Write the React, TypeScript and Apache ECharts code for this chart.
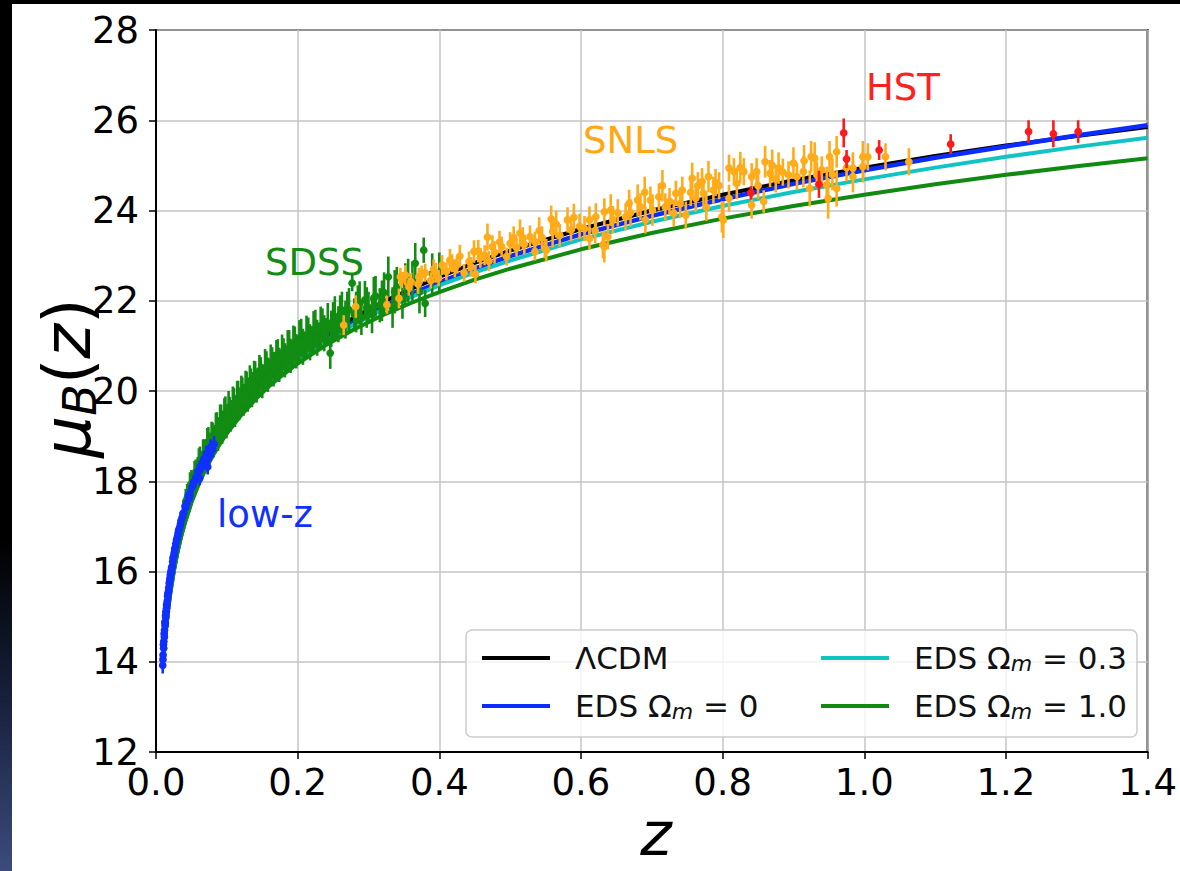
import React, { useEffect, useRef } from "react";
import * as echarts from "echarts";

const FONT = "DejaVu Sans";

// model curves (z, distance modulus)
const curveZ = [0.01, 0.0125, 0.015, 0.0175, 0.02, 0.025, 0.03, 0.035, 0.04, 0.05, 0.06, 0.07, 0.08, 0.09, 0.1, 0.12, 0.14, 0.16, 0.18, 0.2, 0.24, 0.28, 0.32, 0.36, 0.4, 0.45, 0.5, 0.6, 0.7, 0.8, 0.9, 1.0, 1.1, 1.2, 1.3, 1.4];
const muLCDM = [14.02, 14.51, 14.91, 15.25, 15.55, 16.04, 16.44, 16.79, 17.09, 17.58, 17.99, 18.34, 18.65, 18.92, 19.16, 19.59, 19.95, 20.27, 20.55, 20.81, 21.25, 21.63, 21.97, 22.26, 22.53, 22.84, 23.11, 23.59, 24.0, 24.35, 24.67, 24.95, 25.21, 25.44, 25.65, 25.85];
const muEDS0 = [14.02, 14.51, 14.9, 15.24, 15.53, 16.02, 16.43, 16.77, 17.06, 17.56, 17.96, 18.31, 18.61, 18.87, 19.11, 19.53, 19.88, 20.2, 20.47, 20.72, 21.15, 21.53, 21.86, 22.15, 22.41, 22.71, 22.99, 23.47, 23.88, 24.25, 24.59, 24.89, 25.17, 25.42, 25.66, 25.89];
const muEDS03 = [14.02, 14.5, 14.9, 15.24, 15.53, 16.02, 16.42, 16.76, 17.05, 17.55, 17.95, 18.3, 18.6, 18.86, 19.1, 19.51, 19.86, 20.17, 20.44, 20.69, 21.11, 21.48, 21.8, 22.08, 22.34, 22.63, 22.89, 23.36, 23.75, 24.1, 24.41, 24.69, 24.95, 25.19, 25.41, 25.61];
const muEDS1 = [14.01, 14.5, 14.9, 15.23, 15.52, 16.01, 16.41, 16.75, 17.04, 17.53, 17.93, 18.27, 18.56, 18.82, 19.06, 19.46, 19.81, 20.11, 20.37, 20.61, 21.02, 21.37, 21.68, 21.95, 22.19, 22.47, 22.71, 23.14, 23.5, 23.82, 24.1, 24.35, 24.58, 24.79, 24.98, 25.16];

// supernova samples: [z, mu, error]
const lowZData = [
  [0.0095, 13.92, 0.18], [0.01, 14.15, 0.16], [0.0105, 14.38, 0.15], [0.011, 14.45, 0.14], [0.0115, 14.62, 0.14],
  [0.012, 14.7, 0.14], [0.0125, 14.88, 0.13], [0.013, 14.85, 0.13], [0.0135, 15.02, 0.13], [0.014, 15.1, 0.12],
  [0.0145, 15.12, 0.13], [0.015, 15.26, 0.12], [0.0157, 15.3, 0.12], [0.0164, 15.45, 0.12], [0.0171, 15.52, 0.12],
  [0.0178, 15.58, 0.12], [0.0186, 15.74, 0.12], [0.0194, 15.8, 0.12], [0.0202, 15.92, 0.12], [0.0211, 15.98, 0.12],
  [0.022, 16.08, 0.12], [0.023, 16.12, 0.12], [0.024, 16.3, 0.12], [0.0252, 16.36, 0.12], [0.0264, 16.5, 0.12],
  [0.0276, 16.55, 0.12], [0.029, 16.7, 0.12], [0.0305, 16.78, 0.12], [0.032, 16.92, 0.12], [0.0335, 16.98, 0.12],
  [0.0352, 17.12, 0.13], [0.037, 17.2, 0.13], [0.039, 17.3, 0.13], [0.041, 17.45, 0.14], [0.0432, 17.5, 0.14],
  [0.0455, 17.68, 0.14], [0.048, 17.7, 0.14], [0.0505, 17.86, 0.15], [0.0532, 17.98, 0.15], [0.056, 18.05, 0.15],
  [0.059, 18.22, 0.16], [0.062, 18.25, 0.16], [0.065, 18.4, 0.16], [0.068, 18.45, 0.17], [0.071, 18.62, 0.17],
  [0.074, 18.5, 0.17], [0.077, 18.75, 0.18], [0.08, 18.7, 0.18], [0.082, 18.82, 0.18], [0.0664, 18.4, 0.17],
  [0.073, 18.32, 0.17], [0.0618, 18.07, 0.16],
  [0.0098, 14.05, 0.16], [0.0108, 14.3, 0.15], [0.0118, 14.55, 0.14], [0.0128, 14.8, 0.14], [0.0138, 14.98, 0.13],
  [0.0148, 15.18, 0.13], [0.016, 15.35, 0.12], [0.0168, 15.5, 0.12], [0.0182, 15.65, 0.12], [0.0198, 15.85, 0.12],
  [0.0215, 16.02, 0.12], [0.0235, 16.22, 0.12], [0.0258, 16.42, 0.12], [0.028, 16.62, 0.12], [0.0298, 16.72, 0.13],
  [0.0312, 16.85, 0.13], [0.0345, 17.05, 0.13], [0.038, 17.28, 0.14], [0.042, 17.42, 0.14], [0.047, 17.62, 0.14],
  [0.052, 17.9, 0.15], [0.058, 18.12, 0.16], [0.064, 18.35, 0.17], [0.07, 18.5, 0.17], [0.076, 18.62, 0.18],
];

const sdssData = [
  [0.042, 17.55, 0.28], [0.046, 17.72, 0.26], [0.05, 17.95, 0.3], [0.053, 17.98, 0.25], [0.056, 18.2, 0.28],
  [0.059, 18.24, 0.3], [0.062, 18.45, 0.32], [0.065, 18.4, 0.26], [0.068, 18.62, 0.31], [0.071, 18.66, 0.28],
  [0.074, 18.85, 0.35], [0.077, 18.8, 0.28], [0.08, 18.98, 0.32], [0.083, 18.95, 0.28], [0.086, 19.18, 0.35],
  [0.089, 19.12, 0.3], [0.092, 19.35, 0.35], [0.095, 19.28, 0.28], [0.098, 19.5, 0.38], [0.101, 19.42, 0.3],
  [0.104, 19.55, 0.32], [0.107, 19.52, 0.28], [0.11, 19.72, 0.35], [0.113, 19.62, 0.28], [0.116, 19.85, 0.38],
  [0.119, 19.78, 0.3], [0.122, 19.95, 0.35], [0.125, 19.88, 0.28], [0.128, 20.05, 0.38], [0.131, 19.98, 0.3],
  [0.134, 20.15, 0.35], [0.137, 20.1, 0.32], [0.14, 20.28, 0.38], [0.144, 20.22, 0.3], [0.148, 20.4, 0.35],
  [0.152, 20.3, 0.28], [0.156, 20.5, 0.38], [0.16, 20.42, 0.3], [0.164, 20.62, 0.35], [0.168, 20.55, 0.32],
  [0.172, 20.75, 0.4], [0.176, 20.62, 0.3], [0.18, 20.82, 0.35], [0.184, 20.72, 0.28], [0.188, 20.95, 0.4],
  [0.192, 20.82, 0.3], [0.196, 21.05, 0.38], [0.2, 20.92, 0.32], [0.205, 21.18, 0.42], [0.21, 21.02, 0.3],
  [0.215, 21.25, 0.38], [0.22, 21.12, 0.32], [0.225, 21.38, 0.42], [0.23, 21.22, 0.3], [0.235, 21.45, 0.38],
  [0.24, 21.3, 0.32], [0.246, 20.84, 0.35], [0.25, 21.55, 0.42], [0.255, 21.42, 0.3], [0.26, 21.7, 0.42],
  [0.265, 21.55, 0.32], [0.27, 21.82, 0.38], [0.277, 22.39, 0.18], [0.28, 21.7, 0.35], [0.285, 21.92, 0.42],
  [0.29, 21.62, 0.38], [0.295, 22.02, 0.42], [0.3, 21.85, 0.35], [0.305, 21.7, 0.42], [0.31, 22.1, 0.45],
  [0.316, 21.9, 0.38], [0.322, 22.18, 0.45], [0.328, 22.53, 0.45], [0.334, 21.85, 0.45], [0.34, 22.3, 0.45],
  [0.348, 22.05, 0.45], [0.356, 22.45, 0.48], [0.366, 22.83, 0.45], [0.372, 22.2, 0.48], [0.378, 23.12, 0.28],
  [0.38, 21.94, 0.3], [0.39, 22.6, 0.45], [0.4, 22.62, 0.45],
  [0.044, 17.62, 0.32], [0.048, 17.85, 0.35], [0.0515, 17.88, 0.32], [0.0545, 18.1, 0.35], [0.0575, 18.12, 0.32],
  [0.0605, 18.35, 0.38], [0.0635, 18.3, 0.32], [0.0665, 18.55, 0.38], [0.0695, 18.52, 0.32], [0.0725, 18.78, 0.4],
  [0.0755, 18.68, 0.32], [0.0785, 18.92, 0.4], [0.0815, 18.85, 0.32], [0.0845, 19.1, 0.42], [0.0875, 19.02, 0.35],
  [0.0905, 19.28, 0.42], [0.0935, 19.18, 0.35], [0.0965, 19.42, 0.42], [0.0995, 19.3, 0.35], [0.1025, 19.58, 0.42],
  [0.1055, 19.45, 0.35], [0.1085, 19.68, 0.42], [0.1115, 19.55, 0.35], [0.1145, 19.8, 0.42], [0.1175, 19.7, 0.35],
  [0.1205, 19.92, 0.42], [0.1235, 19.8, 0.35], [0.1265, 20.0, 0.45], [0.1295, 19.92, 0.38], [0.1325, 20.12, 0.45],
  [0.1355, 20.02, 0.38], [0.1385, 20.22, 0.45], [0.142, 20.12, 0.38], [0.146, 20.35, 0.45], [0.15, 20.22, 0.38],
  [0.154, 20.48, 0.45], [0.158, 20.36, 0.38], [0.162, 20.58, 0.45], [0.166, 20.48, 0.38], [0.17, 20.68, 0.45],
  [0.174, 20.58, 0.38], [0.178, 20.8, 0.45], [0.182, 20.68, 0.38], [0.186, 20.9, 0.45], [0.19, 20.78, 0.38],
  [0.194, 21.0, 0.45], [0.198, 20.88, 0.38], [0.2025, 21.12, 0.45], [0.2075, 20.98, 0.4], [0.2125, 21.22, 0.45],
  [0.2175, 21.08, 0.4], [0.2225, 21.32, 0.45], [0.2275, 21.18, 0.4], [0.2325, 21.42, 0.45], [0.2375, 21.28, 0.4],
  [0.2425, 21.5, 0.45], [0.2475, 21.38, 0.4], [0.2525, 21.62, 0.48], [0.2575, 21.48, 0.4], [0.2625, 21.72, 0.48],
  [0.2675, 21.58, 0.42], [0.2725, 21.8, 0.48], [0.2825, 21.75, 0.45], [0.2875, 21.95, 0.48], [0.2975, 21.85, 0.45],
  [0.3075, 22.05, 0.48], [0.319, 22.0, 0.45], [0.337, 22.2, 0.48], [0.352, 22.35, 0.48], [0.362, 22.42, 0.45],
];

const snlsData = [
  [0.265, 21.46, 0.22], [0.282, 21.87, 0.25], [0.326, 21.91, 0.2], [0.343, 22.05, 0.22], [0.345, 22.53, 0.2],
  [0.347, 22.46, 0.18], [0.352, 22.57, 0.22], [0.357, 22.31, 0.2], [0.37, 22.37, 0.22], [0.371, 22.53, 0.2],
  [0.38, 22.62, 0.2], [0.388, 22.45, 0.18], [0.392, 22.7, 0.22], [0.399, 22.5, 0.18], [0.404, 22.79, 0.22],
  [0.41, 22.65, 0.2], [0.418, 22.83, 0.2], [0.422, 22.72, 0.2], [0.429, 22.99, 0.25], [0.435, 22.62, 0.2],
  [0.442, 22.87, 0.22], [0.449, 23.09, 0.25], [0.451, 22.59, 0.2], [0.458, 22.95, 0.22], [0.464, 23.01, 0.22],
  [0.468, 23.41, 0.3], [0.47, 22.88, 0.22], [0.478, 23.07, 0.25], [0.485, 23.3, 0.25], [0.488, 23.2, 0.22],
  [0.495, 22.98, 0.2], [0.5, 23.27, 0.25], [0.509, 23.18, 0.2], [0.514, 23.5, 0.3], [0.518, 23.38, 0.25],
  [0.528, 23.42, 0.25], [0.535, 23.31, 0.22], [0.535, 23.09, 0.2], [0.541, 23.55, 0.3], [0.549, 23.16, 0.22],
  [0.551, 23.12, 0.25], [0.558, 23.81, 0.3], [0.56, 23.53, 0.35], [0.57, 23.45, 0.25], [0.581, 23.79, 0.28],
  [0.586, 23.57, 0.25], [0.598, 23.65, 0.28], [0.612, 23.38, 0.25], [0.612, 23.79, 0.3], [0.621, 23.86, 0.3],
  [0.631, 23.24, 0.3], [0.633, 23.2, 0.35], [0.633, 23.97, 0.3], [0.638, 23.42, 0.28], [0.642, 24.01, 0.35],
  [0.652, 23.95, 0.3], [0.663, 23.86, 0.3], [0.668, 24.16, 0.3], [0.68, 24.23, 0.35], [0.684, 24.08, 0.3],
  [0.691, 23.79, 0.3], [0.698, 24.23, 0.3], [0.701, 24.01, 0.35], [0.71, 24.3, 0.3], [0.719, 24.08, 0.3],
  [0.725, 24.2, 0.3], [0.731, 23.94, 0.3], [0.734, 24.38, 0.28], [0.743, 24.45, 0.3], [0.748, 23.9, 0.3],
  [0.755, 24.4, 0.3], [0.757, 24.71, 0.35], [0.762, 24.27, 0.3], [0.771, 24.64, 0.3], [0.773, 24.38, 0.28],
  [0.777, 24.07, 0.3], [0.787, 24.45, 0.3], [0.79, 24.62, 0.3], [0.799, 23.86, 0.35], [0.801, 23.79, 0.4],
  [0.809, 24.94, 0.3], [0.809, 24.27, 0.3], [0.816, 24.86, 0.3], [0.82, 24.6, 0.35], [0.83, 24.86, 0.3],
  [0.841, 24.75, 0.3], [0.841, 24.12, 0.3], [0.848, 24.86, 0.3], [0.858, 24.2, 0.25], [0.86, 25.08, 0.35],
  [0.867, 24.82, 0.3], [0.875, 24.7, 0.3], [0.879, 24.94, 0.35], [0.893, 24.79, 0.3], [0.9, 25.05, 0.35],
  [0.905, 24.75, 0.3], [0.914, 24.86, 0.35], [0.923, 24.49, 0.4], [0.925, 25.19, 0.35], [0.93, 25.16, 0.35],
  [0.933, 24.79, 0.3], [0.94, 24.9, 0.3], [0.947, 24.57, 0.4], [0.949, 24.27, 0.45], [0.951, 25.19, 0.35],
  [0.961, 24.49, 0.4], [0.961, 25.3, 0.35], [0.984, 24.94, 0.35], [0.984, 24.75, 0.35], [0.998, 25.19, 0.35],
  [0.998, 24.97, 0.35], [1.005, 25.19, 0.3], [1.03, 25.19, 0.3], [1.063, 25.08, 0.3],
  [0.36, 22.42, 0.2], [0.375, 22.58, 0.2], [0.395, 22.62, 0.22], [0.415, 22.9, 0.25], [0.425, 22.8, 0.2],
  [0.445, 22.75, 0.22], [0.455, 23.1, 0.25], [0.475, 23.2, 0.25], [0.505, 23.4, 0.25], [0.52, 23.25, 0.22],
  [0.545, 23.4, 0.25], [0.565, 23.7, 0.3], [0.59, 23.85, 0.3], [0.605, 23.6, 0.28], [0.62, 23.55, 0.28],
  [0.645, 23.8, 0.3], [0.67, 23.95, 0.3], [0.69, 24.4, 0.35], [0.715, 24.55, 0.35], [0.74, 24.15, 0.3],
  [0.765, 24.55, 0.3], [0.78, 24.75, 0.35], [0.795, 24.55, 0.3], [0.825, 24.95, 0.35], [0.85, 24.55, 0.3],
  [0.87, 25.0, 0.35], [0.885, 24.85, 0.3], [0.915, 25.1, 0.35], [0.955, 24.8, 0.35], [0.975, 24.95, 0.3],
];

const hstData = [
  [0.84, 24.39, 0.15], [0.936, 24.58, 0.3], [0.971, 25.72, 0.32], [0.975, 25.14, 0.2], [1.021, 25.34, 0.22],
  [1.122, 25.47, 0.22], [1.232, 25.75, 0.25], [1.267, 25.7, 0.3], [1.302, 25.75, 0.25],
];

const legendNames = ["ΛCDM", "EDS Ωm = 0", "EDS Ωm = 0.3", "EDS Ωm = 1.0"];
const curveColors = ["#000000", "#0a2cff", "#10c4c4", "#108a10"];
const curveWidths = [4, 4.5, 4, 4];

function errSeries(name: string, data: number[][], color: string, z: number) {
  return {
    type: "custom",
    name,
    data,
    z,
    clip: true,
    silent: true,
    encode: { x: 0, y: 1 },
    renderItem: (_params: any, api: any) => {
      const x = api.value(0);
      const y = api.value(1);
      const e = api.value(2);
      const top = api.coord([x, y + e]);
      const bot = api.coord([x, y - e]);
      const c = api.coord([x, y]);
      return {
        type: "group",
        children: [
          { type: "line", shape: { x1: top[0], y1: top[1], x2: bot[0], y2: bot[1] }, style: { stroke: color, lineWidth: 2.6 } },
          { type: "circle", shape: { cx: c[0], cy: c[1], r: 3.9 }, style: { fill: color } },
        ],
      };
    },
  };
}

const legendText = {
  fontFamily: FONT,
  fontSize: 31,
  color: "#111",
  lineHeight: 36,
  padding: [0, 0, 0, 20],
  rich: {
    s: { fontFamily: FONT, fontSize: 22, fontStyle: "italic", color: "#111", lineHeight: 22, padding: [10, 0, 0, 0] },
  },
};
const legendFormatter = (name: string) => name.replace("Ωm", "Ω{s|m}");

export default function App() {
  const ref = useRef<HTMLDivElement>(null);
  useEffect(() => {
    if (!ref.current) return;
    const chart = echarts.init(ref.current, null, { renderer: "svg" });
    const curves = [muLCDM, muEDS0, muEDS03, muEDS1].map((mu, k) => ({
      type: "line",
      name: legendNames[k],
      data: curveZ.map((z, i) => [z, mu[i]]),
      showSymbol: false,
      symbol: "none",
      z: 2,
      lineStyle: { color: curveColors[k], width: curveWidths[k] },
      itemStyle: { color: curveColors[k] },
      silent: true,
    }));
    chart.setOption({
      animation: false,
      backgroundColor: "#ffffff",
      grid: { left: 156, top: 30, right: 27, bottom: 119, show: true, borderColor: "#000", borderWidth: 2, containLabel: false },
      xAxis: {
        type: "value",
        min: 0,
        max: 1.4,
        interval: 0.2,
        axisLine: { show: true, lineStyle: { color: "#000", width: 2 } },
        axisTick: { show: true, length: 7, lineStyle: { color: "#000", width: 1.5 } },
        axisLabel: { formatter: (v: number) => v.toFixed(1), fontFamily: FONT, fontSize: 37, color: "#000", margin: 12 },
        splitLine: { show: true, lineStyle: { color: "#c4c4c4", width: 1.5 } },
      },
      yAxis: {
        type: "value",
        min: 12,
        max: 28,
        interval: 2,
        axisLine: { show: true, lineStyle: { color: "#000", width: 2 } },
        axisTick: { show: true, length: 7, lineStyle: { color: "#000", width: 1.5 } },
        axisLabel: { formatter: (v: number) => String(Math.round(v)), fontFamily: FONT, fontSize: 37, color: "#000", margin: 17 },
        splitLine: { show: true, lineStyle: { color: "#c4c4c4", width: 1.5 } },
      },
      legend: [
        {
          data: [legendNames[0], legendNames[1]],
          orient: "vertical",
          left: 477,
          top: 635,
          itemWidth: 68,
          itemHeight: 4,
          itemGap: 12,
          icon: "rect",
          selectedMode: false,
          z: 6,
          textStyle: legendText,
          formatter: legendFormatter,
        },
        {
          data: [legendNames[2], legendNames[3]],
          orient: "vertical",
          left: 816,
          top: 635,
          itemWidth: 68,
          itemHeight: 4,
          itemGap: 12,
          icon: "rect",
          selectedMode: false,
          z: 6,
          textStyle: legendText,
          formatter: legendFormatter,
        },
      ],
      graphic: [
        {
          type: "rect",
          z: 5,
          shape: { x: 466, y: 630, width: 671, height: 107, r: 6 },
          style: { fill: "rgba(255,255,255,0.8)", stroke: "#cccccc", lineWidth: 1.5 },
        },
        { type: "text", z: 7, x: 866, y: 87, style: { text: "HST", fill: "#ff2020", font: `37px '${FONT}'`, verticalAlign: "middle", align: "left" } },
        { type: "text", z: 7, x: 583, y: 140, style: { text: "SNLS", fill: "#ffa812", font: `37px '${FONT}'`, verticalAlign: "middle", align: "left" } },
        { type: "text", z: 7, x: 265, y: 262, style: { text: "SDSS", fill: "#128c12", font: `37px '${FONT}'`, verticalAlign: "middle", align: "left" } },
        { type: "text", z: 7, x: 217, y: 514, style: { text: "low-z", fill: "#1030ff", font: `37px '${FONT}'`, verticalAlign: "middle", align: "left" } },
        {
          type: "text",
          z: 7,
          x: 656,
          y: 834,
          style: { text: "z", fill: "#000", font: `italic 60px '${FONT}'`, verticalAlign: "middle", align: "center" },
        },
        {
          type: "text",
          z: 7,
          x: 67,
          y: 378,
          rotation: Math.PI / 2,
          style: {
            text: "{m|μ}{s|B}{p|(}{m|z}{p|)}",
            align: "center",
            verticalAlign: "middle",
            fill: "#000",
            rich: {
              m: { fontFamily: FONT, fontSize: 66, fontStyle: "italic", fill: "#000", lineHeight: 74 },
              p: { fontFamily: FONT, fontSize: 66, fill: "#000", lineHeight: 74 },
              s: { fontFamily: FONT, fontSize: 46, fontStyle: "italic", fill: "#000", lineHeight: 46, padding: [26, 0, 0, 0] },
            },
          },
        },
        { type: "rect", z: 50, shape: { x: 0, y: 0, width: 1180, height: 4 }, style: { fill: "#000" } },
        {
          type: "rect",
          z: 50,
          shape: { x: 0, y: 0, width: 12, height: 871 },
          style: {
            fill: new echarts.graphic.LinearGradient(0, 0, 0, 1, [
              { offset: 0, color: "#000000" },
              { offset: 0.62, color: "#000000" },
              { offset: 0.8, color: "#17203a" },
              { offset: 1, color: "#3b4b7c" },
            ]),
          },
        },
      ],
      series: [
        ...curves,
        errSeries("SDSS", sdssData, "#128c12", 3),
        errSeries("low-z", lowZData, "#1030ff", 4),
        errSeries("SNLS", snlsData, "#ffab1a", 5),
        errSeries("HST", hstData, "#ff1a1a", 6),
      ],
    });
    return () => chart.dispose();
  }, []);
  return <div ref={ref} style={{ position: "fixed", left: 0, top: 0, width: 1180, height: 871 }} />;
}
